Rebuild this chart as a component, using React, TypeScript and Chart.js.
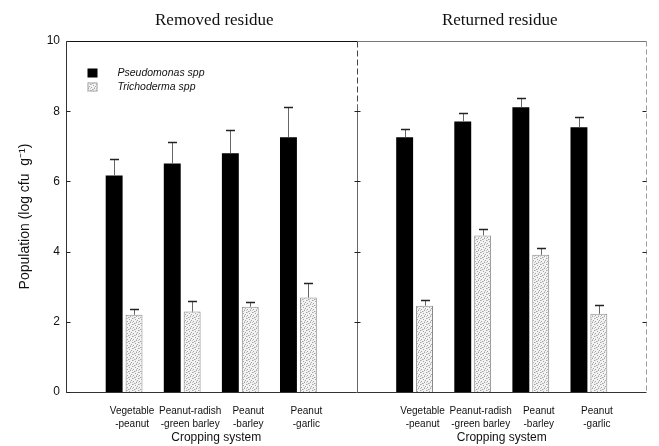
import React, { useEffect, useRef } from 'react';
import { Chart, registerables } from 'chart.js';

Chart.register(...registerables);

// ---- data ----
const groups: string[][] = [
  ['Vegetable', '-peanut'],
  ['Peanut-radish', '-green barley'],
  ['Peanut', '-barley'],
  ['Peanut', '-garlic'],
];
const panelTitles = ['Removed residue', 'Returned residue'];
const xAxisTitle = 'Cropping system';
const yAxisTitle = 'Population (log cfu  g\u207B\u00B9)';
const yTicks = [0, 2, 4, 6, 8, 10];
const seriesNames = ['Pseudomonas spp', 'Trichoderma spp'];

const pseudoRemoved = [6.17, 6.51, 6.8, 7.26];
const pseudoRemovedErr = [0.46, 0.6, 0.66, 0.85];
const trichoRemoved = [2.2, 2.29, 2.43, 2.69];
const trichoRemovedErr = [0.17, 0.31, 0.14, 0.42];
const pseudoReturned = [7.26, 7.71, 8.11, 7.54];
const pseudoReturnedErr = [0.23, 0.23, 0.26, 0.29];
const trichoReturned = [2.46, 4.46, 3.91, 2.23];
const trichoReturnedErr = [0.17, 0.17, 0.18, 0.26];

const SANS = '"Liberation Sans", Arial, Helvetica, sans-serif';
const SERIF = '"Liberation Serif", "Times New Roman", serif';

function makePattern(): CanvasPattern | string {
  const c = document.createElement('canvas');
  c.width = 6;
  c.height = 6;
  const ctx = c.getContext('2d');
  if (!ctx) return '#dddddd';
  ctx.fillStyle = '#f3f3f3';
  ctx.fillRect(0, 0, 6, 6);
  ctx.fillStyle = '#a4a4a4';
  const dots = [[0, 0], [3, 1], [1, 3], [4, 4], [2, 5], [5, 2]];
  dots.forEach(([x, y]) => ctx.fillRect(x, y, 1, 1));
  ctx.fillStyle = '#c8c8c8';
  [[1, 0], [4, 3], [0, 4], [3, 5]].forEach(([x, y]) => ctx.fillRect(x, y, 1, 1));
  return ctx.createPattern(c, 'repeat') || '#dddddd';
}

const errorBarPlugin = {
  id: 'errorBars',
  afterDatasetsDraw(chart: any) {
    const ctx = chart.ctx;
    const yScale = chart.scales.y;
    chart.data.datasets.forEach((ds: any, di: number) => {
      const meta = chart.getDatasetMeta(di);
      meta.data.forEach((bar: any, i: number) => {
        const v = ds.data[i];
        const e = ds.errors ? ds.errors[i] : null;
        if (v == null || e == null) return;
        const yTop = yScale.getPixelForValue(v + e);
        const yBar = yScale.getPixelForValue(v);
        const x = Math.round(bar.x) + 0.5;
        ctx.save();
        ctx.strokeStyle = '#666';
        ctx.lineWidth = 1;
        ctx.beginPath();
        ctx.moveTo(x, yBar);
        ctx.lineTo(x, Math.round(yTop) + 0.5);
        ctx.stroke();
        ctx.strokeStyle = '#222';
        ctx.lineWidth = 1.5;
        ctx.beginPath();
        ctx.moveTo(x - 4.5, Math.round(yTop) + 0.5);
        ctx.lineTo(x + 4.5, Math.round(yTop) + 0.5);
        ctx.stroke();
        ctx.restore();
      });
    });
  },
};

const framePlugin = {
  id: 'frame',
  afterDraw(chart: any) {
    const ctx = chart.ctx;
    const { left, right, top, bottom } = chart.chartArea;
    const xScale = chart.scales.x;
    const yScale = chart.scales.y;
    const L = Math.round(left) + 0.5;
    const R = Math.round(right) - 0.5;
    const T = Math.round(top) + 0.5;
    const B = Math.round(bottom) + 0.5;
    const mid = Math.round(xScale.getPixelForValue(5)) + 0.5;
    ctx.save();
    ctx.lineWidth = 1;
    // top border
    ctx.strokeStyle = '#111';
    ctx.beginPath();
    ctx.moveTo(L, T);
    ctx.lineTo(mid, T);
    ctx.stroke();
    ctx.strokeStyle = '#777';
    ctx.beginPath();
    ctx.moveTo(mid, T);
    ctx.lineTo(R, T);
    ctx.stroke();
    // bottom
    ctx.strokeStyle = '#333';
    ctx.beginPath();
    ctx.moveTo(L, B);
    ctx.lineTo(R, B);
    ctx.stroke();
    // left axis
    ctx.strokeStyle = '#333';
    ctx.beginPath();
    ctx.moveTo(L, T);
    ctx.lineTo(L, B);
    ctx.stroke();
    // right border (dashed)
    ctx.strokeStyle = '#999';
    ctx.setLineDash([5, 3]);
    ctx.beginPath();
    ctx.moveTo(R, T);
    ctx.lineTo(R, B);
    ctx.stroke();
    // divider
    const y7 = yScale.getPixelForValue(8.2);
    ctx.strokeStyle = '#444';
    ctx.setLineDash([6, 3]);
    ctx.beginPath();
    ctx.moveTo(mid, T);
    ctx.lineTo(mid, y7);
    ctx.stroke();
    ctx.setLineDash([]);
    ctx.strokeStyle = '#666';
    ctx.beginPath();
    ctx.moveTo(mid, y7);
    ctx.lineTo(mid, B);
    ctx.stroke();
    // ticks
    ctx.strokeStyle = '#222';
    yTicks.forEach((t) => {
      const y = Math.round(yScale.getPixelForValue(t)) + 0.5;
      ctx.beginPath();
      ctx.moveTo(L, y);
      ctx.lineTo(L + 4, y);
      ctx.stroke();
      if (t > 0 && t < 10) {
        ctx.beginPath();
        ctx.moveTo(mid - 3, y);
        ctx.lineTo(mid + 3, y);
        ctx.stroke();
        ctx.beginPath();
        ctx.moveTo(R, y);
        ctx.lineTo(R - 4, y);
        ctx.stroke();
      }
    });
    // panel titles & x-axis titles
    const panels = [
      [xScale.getPixelForValue(0), xScale.getPixelForValue(5)],
      [xScale.getPixelForValue(5), xScale.getPixelForValue(10)],
    ];
    ctx.fillStyle = '#111';
    ctx.textAlign = 'center';
    ctx.textBaseline = 'middle';
    panels.forEach((p, i) => {
      const cx = (p[0] + p[1]) / 2 + (i === 0 ? 3 : -2);
      ctx.font = `17px ${SERIF}`;
      ctx.fillText(panelTitles[i], cx, 21);
      ctx.font = `12px ${SANS}`;
      ctx.fillText(xAxisTitle, cx + 2, 438);
    });
    // legend
    const lx = L + 21;
    const ly = T + 31;
    ctx.textAlign = 'left';
    ctx.font = `italic 10.5px ${SANS}`;
    chart.data.datasets.forEach((ds: any, i: number) => {
      const y = ly + i * 14;
      ctx.fillStyle = ds.backgroundColor;
      ctx.fillRect(lx, y - 4, 10, 9);
      if (i === 1) {
        ctx.strokeStyle = '#aaa';
        ctx.strokeRect(lx + 0.5, y - 3.5, 9, 8);
      }
      ctx.fillStyle = '#111';
      ctx.fillText(seriesNames[i], lx + 30, y + 0.5);
    });
    ctx.restore();
  },
};

export default function App() {
  const ref = useRef<HTMLCanvasElement | null>(null);
  useEffect(() => {
    if (!ref.current) return;
    const labels: (string | string[])[] = ['', ...groups, '', ...groups, ''];
    const pseudo = [null, ...pseudoRemoved, null, ...pseudoReturned, null];
    const pseudoErr = [null, ...pseudoRemovedErr, null, ...pseudoReturnedErr, null];
    const tricho = [null, ...trichoRemoved, null, ...trichoReturned, null];
    const trichoErr = [null, ...trichoRemovedErr, null, ...trichoReturnedErr, null];
    const pattern = makePattern();
    const chart = new Chart(ref.current, {
      type: 'bar',
      data: {
        labels,
        datasets: [
          {
            label: seriesNames[0],
            data: pseudo,
            errors: pseudoErr,
            backgroundColor: '#000000',
            borderWidth: 0,
            categoryPercentage: 0.685,
            barPercentage: 0.85,
          } as any,
          {
            label: seriesNames[1],
            data: tricho,
            errors: trichoErr,
            backgroundColor: pattern,
            borderColor: '#8a8a8a',
            borderWidth: 1,
            categoryPercentage: 0.685,
            barPercentage: 0.85,
          } as any,
        ],
      },
      options: {
        responsive: false,
        animation: false,
        layout: { padding: { top: 41, right: 7, left: 0, bottom: 0 } },
        plugins: {
          legend: { display: false },
          tooltip: { enabled: false },
          title: { display: false },
        },
        scales: {
          x: {
            type: 'category',
            offset: false,
            grid: { display: false, drawTicks: false },
            border: { display: false },
            ticks: {
              autoSkip: false,
              maxRotation: 0,
              minRotation: 0,
              padding: 12,
              labelOffset: 8,
              color: '#111',
              font: { family: SANS, size: 10, lineHeight: 1.35 },
            },
            afterFit: (s: any) => {
              s.height = 54;
            },
          },
          y: {
            min: 0,
            max: 10,
            grid: { display: false, drawTicks: false },
            border: { display: false },
            afterBuildTicks: (s: any) => {
              s.ticks = yTicks.map((v) => ({ value: v }));
            },
            ticks: {
              padding: 6,
              color: '#111',
              font: { family: SANS, size: 12 },
            },
            title: {
              display: true,
              text: yAxisTitle,
              color: '#111',
              font: { family: SANS, size: 14 },
              padding: { top: 17, bottom: 0 },
            },
            afterFit: (s: any) => {
              s.width = 66;
            },
          },
        },
      },
      plugins: [errorBarPlugin, framePlugin],
    } as any);
    return () => chart.destroy();
  }, []);
  return (
    <div style={{ position: 'absolute', left: 0, top: 0, width: 659, height: 446, background: '#fff' }}>
      <canvas ref={ref} width={659} height={446} />
    </div>
  );
}
